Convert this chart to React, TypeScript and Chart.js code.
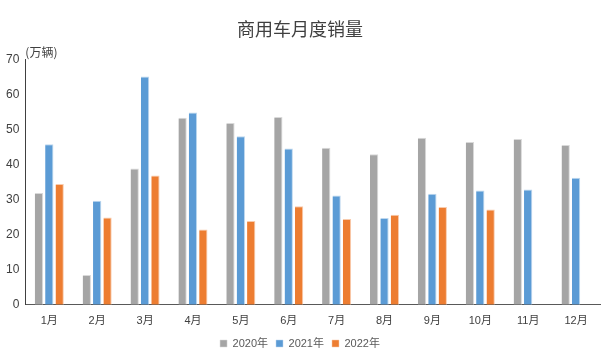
import React, { useEffect, useRef } from "react";
import { Chart, registerables } from "chart.js";

Chart.register(...registerables);

const months = ["1月", "2月", "3月", "4月", "5月", "6月", "7月", "8月", "9月", "10月", "11月", "12月"];
const sales2020 = [31.9, 8.5, 38.9, 53.4, 51.9, 53.6, 44.8, 43.0, 47.7, 46.5, 47.3, 45.6];
const sales2021 = [45.8, 29.7, 65.2, 54.9, 48.1, 44.6, 31.2, 24.8, 31.7, 32.6, 32.9, 36.3];
const sales2022 = [34.5, 24.9, 36.9, 21.5, 23.9, 28.1, 24.5, 25.7, 27.9, 27.2, null, null];
const seriesNames = ["2020年", "2021年", "2022年"];
const titleText = "商用车月度销量";
const unitText = "(万辆)";

const FONT = "'Noto Sans CJK SC', 'Noto Sans', sans-serif";
const NUMFONT = "'Liberation Sans', 'Noto Sans CJK SC', sans-serif";

export default function App() {
  const ref = useRef<HTMLCanvasElement | null>(null);
  useEffect(() => {
    if (!ref.current) return;
    const unitPlugin = {
      id: "unitLabel",
      afterDraw(chart: any) {
        const ctx = chart.ctx;
        const x = chart.scales.x.left;
        ctx.save();
        ctx.font = `12px ${FONT}`;
        ctx.fillStyle = "#404040";
        ctx.textAlign = "left";
        ctx.textBaseline = "middle";
        ctx.fillText(unitText, x, 52);
        ctx.restore();
      },
    };
    const chart = new Chart(ref.current, {
      type: "bar",
      data: {
        labels: months,
        datasets: [
          { label: seriesNames[0], data: sales2020, backgroundColor: "#A5A5A5", borderColor: "#D9D9D9", borderWidth: { right: 1, top: 1 } as any },
          { label: seriesNames[1], data: sales2021, backgroundColor: "#5B9BD5", borderColor: "#BDD7EE", borderWidth: { right: 1, top: 1 } as any },
          { label: seriesNames[2], data: sales2022 as any, backgroundColor: "#ED7D31", borderColor: "#F8CBAD", borderWidth: { right: 1, top: 1 } as any },
        ],
      },
      options: {
        responsive: false,
        animation: false,
        layout: { padding: { left: 0, right: 5, top: 0, bottom: 0 } },
        datasets: { bar: { barPercentage: 0.8, categoryPercentage: 0.65 } } as any,
        plugins: {
          title: {
            display: true,
            text: titleText,
            color: "#404040",
            font: { family: FONT, size: 18, weight: "normal" },
            padding: { top: 18, bottom: 20 },
          },
          legend: {
            position: "bottom",
            labels: {
              boxWidth: 7,
              boxHeight: 7,
              color: "#595959",
              font: { family: NUMFONT, size: 11 },
              padding: 8,
            },
          },
          tooltip: { enabled: false },
        },
        scales: {
          x: {
            grid: { display: false },
            border: { display: true, color: "#595959", width: 1 },
            ticks: { color: "#404040", font: { family: NUMFONT, size: 11 }, padding: 2 },
          },
          y: {
            min: 0,
            max: 70,
            grid: { display: false, drawTicks: false },
            border: { display: true, color: "#404040", width: 1 },
            ticks: { stepSize: 10, color: "#404040", font: { family: NUMFONT, size: 12 }, padding: 6 },
          },
        },
      },
      plugins: [unitPlugin],
    });
    return () => chart.destroy();
  }, []);
  return (
    <div style={{ position: "fixed", left: 0, top: 0 }}>
      <canvas ref={ref} width={605} height={359} style={{ display: "block" }} />
    </div>
  );
}
